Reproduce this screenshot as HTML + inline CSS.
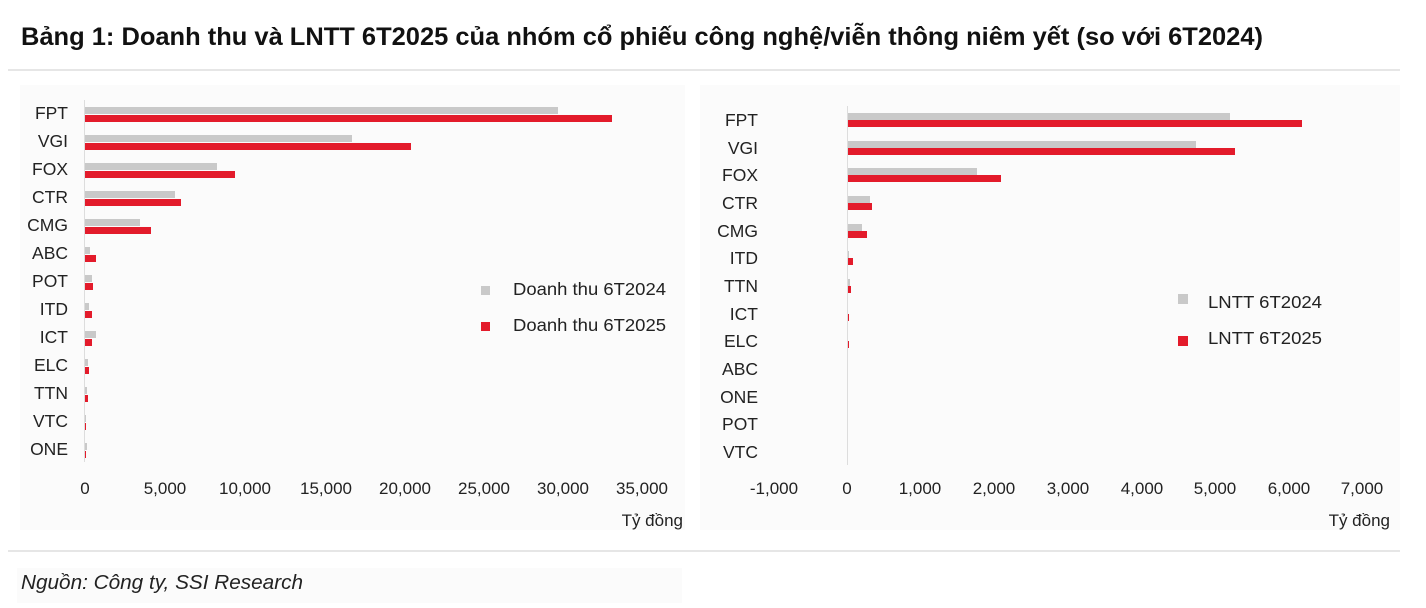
<!DOCTYPE html><html><head><meta charset="utf-8"><style>
body{margin:0;background:#fff;font-family:"Liberation Sans",sans-serif}
</style></head><body>
<svg width="1426" height="603" xmlns="http://www.w3.org/2000/svg" font-family="Liberation Sans, sans-serif">
<rect x="20" y="85" width="665" height="445" fill="#fbfbfb"/>
<rect x="700" y="85" width="700" height="445" fill="#fbfbfb"/>
<rect x="17" y="568" width="665" height="35" fill="#fbfbfb"/>
<text x="21" y="45" font-size="25" font-weight="bold" fill="#111" textLength="1242" lengthAdjust="spacingAndGlyphs">Bảng 1: Doanh thu và LNTT 6T2025 của nhóm cổ phiếu công nghệ/viễn thông niêm yết (so với 6T2024)</text>
<line x1="8" y1="70" x2="1400" y2="70" stroke="#ccc"/>
<line x1="8" y1="551" x2="1400" y2="551" stroke="#ccc"/>
<text x="21" y="589" font-size="20.5" font-style="italic" fill="#222" textLength="282" lengthAdjust="spacingAndGlyphs">Nguồn: Công ty, SSI Research</text>
<g font-size="17.5" fill="#222" text-anchor="end">
<text x="68" y="119">FPT</text><text x="68" y="147">VGI</text><text x="68" y="175">FOX</text><text x="68" y="203">CTR</text><text x="68" y="231">CMG</text><text x="68" y="259">ABC</text><text x="68" y="287">POT</text><text x="68" y="315">ITD</text><text x="68" y="343">ICT</text><text x="68" y="371">ELC</text><text x="68" y="399">TTN</text><text x="68" y="427">VTC</text><text x="68" y="455">ONE</text>
</g>
<line x1="84.5" y1="100" x2="84.5" y2="462" stroke="#ddd"/>
<g fill="#c9c9c9">
<rect x="85" y="107" width="473" height="7"/><rect x="85" y="135" width="267" height="7"/><rect x="85" y="163" width="132" height="7"/><rect x="85" y="191" width="90" height="7"/><rect x="85" y="219" width="55" height="7"/><rect x="85" y="247" width="5" height="7"/><rect x="85" y="275" width="7" height="7"/><rect x="85" y="303" width="4" height="7"/><rect x="85" y="331" width="11" height="7"/><rect x="85" y="359" width="3" height="7"/><rect x="85" y="387" width="2" height="7"/><rect x="85" y="415" width="1" height="7"/><rect x="85" y="443" width="2" height="7"/>
</g>
<g fill="#e31b2b">
<rect x="85" y="115" width="527" height="7"/><rect x="85" y="143" width="326" height="7"/><rect x="85" y="171" width="150" height="7"/><rect x="85" y="199" width="96" height="7"/><rect x="85" y="227" width="66" height="7"/><rect x="85" y="255" width="11" height="7"/><rect x="85" y="283" width="8" height="7"/><rect x="85" y="311" width="7" height="7"/><rect x="85" y="339" width="7" height="7"/><rect x="85" y="367" width="4" height="7"/><rect x="85" y="395" width="3" height="7"/><rect x="85" y="423" width="1" height="7"/><rect x="85" y="451" width="1" height="7"/>
</g>
<g font-size="17" fill="#222" text-anchor="middle">
<text x="85" y="494">0</text><text x="165" y="494">5,000</text><text x="245" y="494">10,000</text><text x="326" y="494">15,000</text><text x="405" y="494">20,000</text><text x="484" y="494">25,000</text><text x="563" y="494">30,000</text><text x="642" y="494">35,000</text>
</g>
<text x="683" y="526" font-size="17" fill="#222" text-anchor="end">Tỷ đồng</text>
<rect x="481" y="286" width="9" height="9" fill="#c9c9c9"/><text x="513" y="295" font-size="17.5" fill="#222" textLength="153" lengthAdjust="spacingAndGlyphs">Doanh thu 6T2024</text>
<rect x="481" y="322" width="9" height="9" fill="#e31b2b"/><text x="513" y="331" font-size="17.5" fill="#222" textLength="153" lengthAdjust="spacingAndGlyphs">Doanh thu 6T2025</text>

<g font-size="17.5" fill="#222" text-anchor="end">
<text x="758" y="126">FPT</text><text x="758" y="154">VGI</text><text x="758" y="181">FOX</text><text x="758" y="209">CTR</text><text x="758" y="237">CMG</text><text x="758" y="264">ITD</text><text x="758" y="292">TTN</text><text x="758" y="320">ICT</text><text x="758" y="347">ELC</text><text x="758" y="375">ABC</text><text x="758" y="403">ONE</text><text x="758" y="430">POT</text><text x="758" y="458">VTC</text>
</g>
<line x1="847.5" y1="106" x2="847.5" y2="465" stroke="#ddd"/>
<g fill="#c9c9c9">
<rect x="848" y="113" width="382" height="7"/><rect x="848" y="141" width="348" height="7"/><rect x="848" y="168" width="129" height="7"/><rect x="848" y="196" width="22" height="7"/><rect x="848" y="224" width="14" height="7"/><rect x="848" y="251" width="1" height="7"/><rect x="848" y="279" width="2" height="7"/>
</g>
<g fill="#e31b2b">
<rect x="848" y="120" width="454" height="7"/><rect x="848" y="148" width="387" height="7"/><rect x="848" y="175" width="153" height="7"/><rect x="848" y="203" width="24" height="7"/><rect x="848" y="231" width="19" height="7"/><rect x="848" y="258" width="5" height="7"/><rect x="848" y="286" width="3" height="7"/><rect x="848" y="314" width="1" height="7"/><rect x="848" y="341" width="1" height="7"/>
</g>
<g font-size="17" fill="#222" text-anchor="middle">
<text x="774" y="494">-1,000</text><text x="847" y="494">0</text><text x="920" y="494">1,000</text><text x="994" y="494">2,000</text><text x="1068" y="494">3,000</text><text x="1142" y="494">4,000</text><text x="1215" y="494">5,000</text><text x="1289" y="494">6,000</text><text x="1362" y="494">7,000</text>
</g>
<text x="1390" y="526" font-size="17" fill="#222" text-anchor="end">Tỷ đồng</text>
<rect x="1178" y="294" width="10" height="10" fill="#c9c9c9"/><text x="1208" y="308" font-size="17.5" fill="#222" textLength="114" lengthAdjust="spacingAndGlyphs">LNTT 6T2024</text>
<rect x="1178" y="336" width="10" height="10" fill="#e31b2b"/><text x="1208" y="344" font-size="17.5" fill="#222" textLength="114" lengthAdjust="spacingAndGlyphs">LNTT 6T2025</text>
</svg>
</body></html>
